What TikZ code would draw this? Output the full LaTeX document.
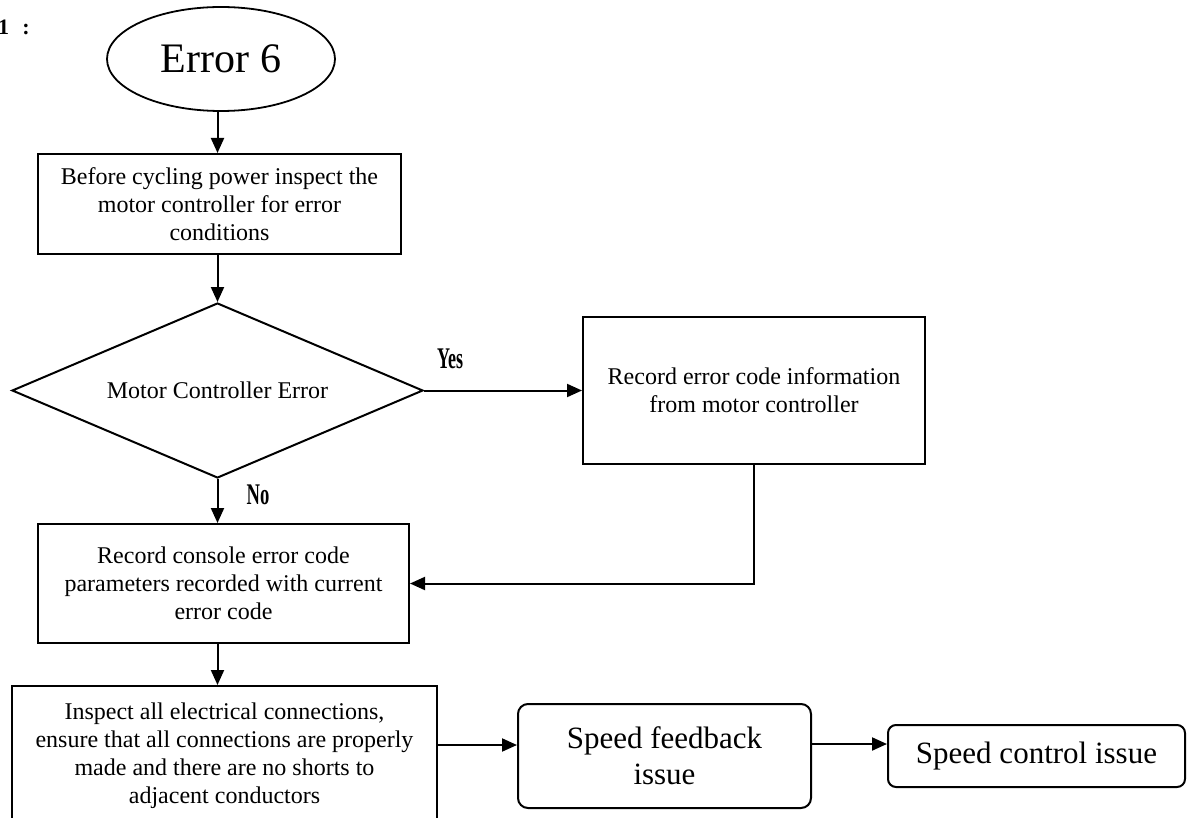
\documentclass[tikz,border=0pt]{standalone}
\usepackage{fontspec}
\setmainfont{Liberation Serif}
\usepackage{graphicx}
\usetikzlibrary{shapes.geometric,arrows.meta}
\begin{document}
\begin{tikzpicture}[x=0.5pt,y=-0.5pt,
  every node/.style={inner sep=0pt, align=center, font=\fontsize{12}{14}\selectfont},
  stepbox/.style={draw, line width=1pt, rectangle},
  roundbox/.style={draw, line width=1pt, rounded corners=5pt, font=\fontsize{15.5}{18}\selectfont},
  decision/.style={draw, line width=1pt, diamond, shape aspect=2.35},
  terminal/.style={draw, line width=0.9pt, ellipse, font=\fontsize{21}{24}\selectfont},
  arr/.style={line width=1pt, -{Triangle[length=7.5pt,width=6.5pt]}},
  branch/.style={font=\fontsize{15}{17}\bfseries\selectfont}
]
\useasboundingbox (0,0) rectangle (1187,818);
\fill[white] (0,0) rectangle (1187,818);

% figure number, partly cut by the left margin
\node[anchor=base east, font=\fontsize{11}{13}\bfseries\selectfont] (fignum) at (30,35) {1\hspace{0.6em}:};

% main chain
\node[terminal, minimum width=114pt, minimum height=52pt] (start) at (221,59) {Error 6};
\node[stepbox, minimum width=181.5pt, minimum height=50pt] (inspect) at (219.5,204)
  {Before cycling power inspect the\\motor controller for error\\conditions};
\node[decision, minimum width=205.5pt, minimum height=87.5pt] (mcerr) at (217.5,390.5)
  {Motor Controller Error};
\node[stepbox, minimum width=171pt, minimum height=73.5pt] (rec) at (754,390.5)
  {Record error code information\\from motor controller};
\node[stepbox, minimum width=185.5pt, minimum height=59.5pt] (console) at (223.5,583.5)
  {Record console error code\\parameters recorded with current\\error code};
\node[stepbox, minimum width=212.5pt, minimum height=70pt] (checkconn) at (224.5,756)
  {Inspect all electrical connections,\\ensure that all connections are properly\\made and there are no shorts to\\adjacent conductors};
\node[roundbox, minimum width=146.5pt, minimum height=52pt] (speedfb) at (664.5,756)
  {Speed feedback\\issue};
\node[roundbox, rounded corners=4pt, minimum width=148.5pt, minimum height=31pt] (speedctl) at (1036.5,756)
  {Speed control issue};

% branch labels
\node[branch] (yes) at (450,359) {\scalebox{0.6}[1]{Yes}};
\node[branch] (no) at (258,495) {\scalebox{0.62}[1]{No}};

% connectors
\draw[arr] (start.south -| mcerr.north) -- (inspect.north -| mcerr.north);
\draw[arr] (inspect.south -| mcerr.north) -- (mcerr.north);
\draw[arr] (mcerr.east) -- (mcerr.east -| rec.west);
\draw[arr] (mcerr.south) -- (console.north -| mcerr.south);
\draw[arr] (rec.south) |- (console.east);
\draw[arr] (console.south -| mcerr.south) -- (checkconn.north -| mcerr.south);
\coordinate (fbin) at ([yshift=5.5pt]speedfb.west);
\draw[arr] (fbin -| checkconn.east) -- (fbin);
\coordinate (scin) at ([yshift=6pt]speedctl.west);
\draw[arr] (scin -| speedfb.east) -- (scin);
\end{tikzpicture}
\end{document}
